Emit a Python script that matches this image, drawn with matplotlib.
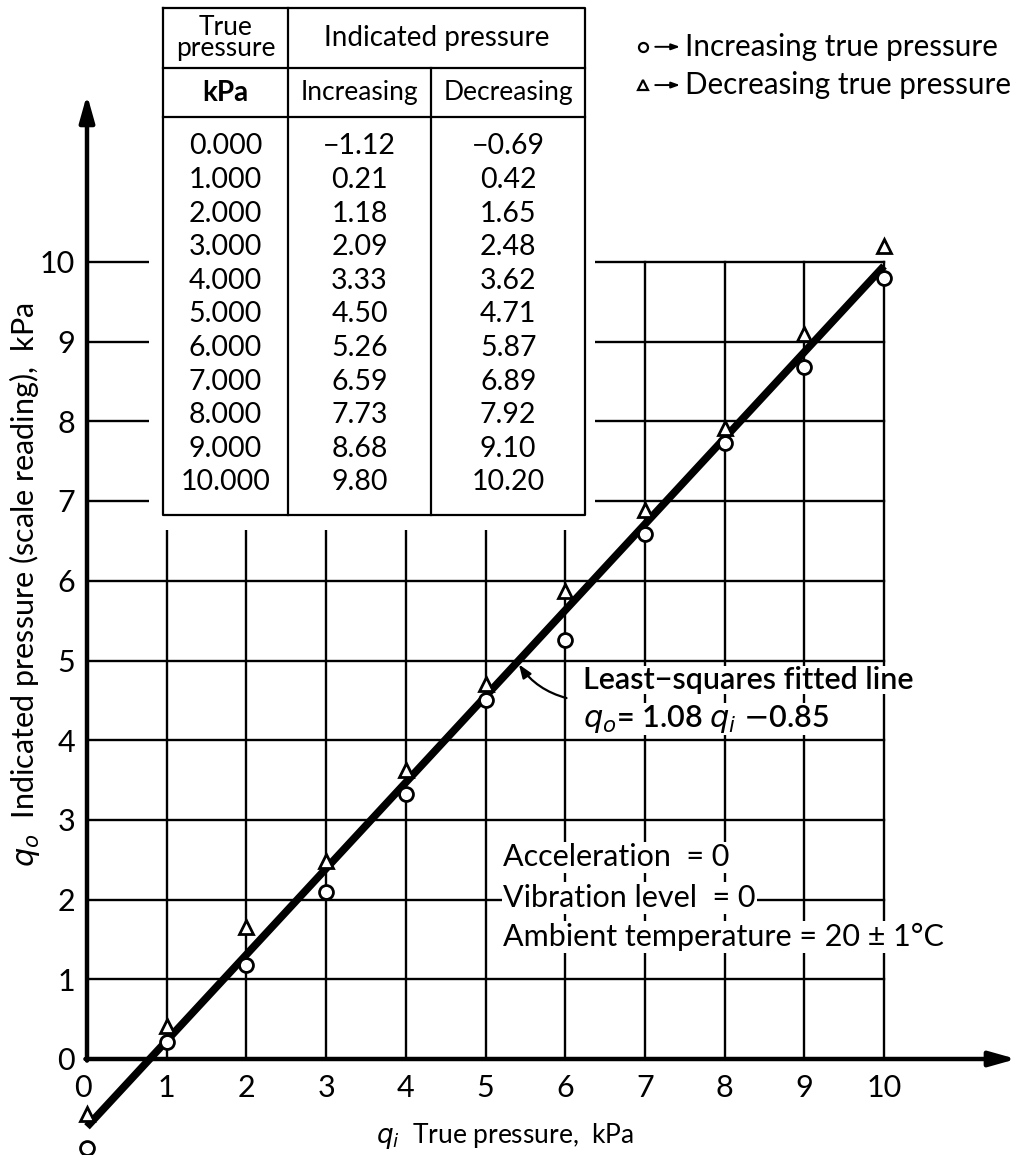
import numpy as np
import matplotlib.pyplot as plt
from matplotlib.patches import Rectangle

plt.rcParams['font.family'] = ['Lato', 'DejaVu Sans']

# Calibration data
true_p = [0, 1, 2, 3, 4, 5, 6, 7, 8, 9, 10]
inc_p = [-1.12, 0.21, 1.18, 2.09, 3.33, 4.50, 5.26, 6.59, 7.73, 8.68, 9.80]
dec_p = [-0.69, 0.42, 1.65, 2.48, 3.62, 4.71, 5.87, 6.89, 7.92, 9.10, 10.20]
true_lbl = ['0.000', '1.000', '2.000', '3.000', '4.000', '5.000',
            '6.000', '7.000', '8.000', '9.000', '10.000']
inc_lbl = ['\u22121.12', '0.21', '1.18', '2.09', '3.33', '4.50',
           '5.26', '6.59', '7.73', '8.68', '9.80']
dec_lbl = ['\u22120.69', '0.42', '1.65', '2.48', '3.62', '4.71',
           '5.87', '6.89', '7.92', '9.10', '10.20']
slope, intercept = 1.08, -0.85
ticks = list(range(11))

# Figure: one axes filling the canvas, 1 unit ~ 80 px
fig = plt.figure(figsize=(10.19, 11.55), dpi=100)
ax = fig.add_axes([0, 0, 1, 1])
u = 79.7
ax.set_xlim(-87 / u, (1019 - 87) / u)
ax.set_ylim(-(1155 - 1059) / u, 1059 / u)
ax.axis('off')

# grid
for t in ticks[1:]:
    ax.plot([0, 10], [t, t], color='k', lw=1.7, zorder=1)
    ax.plot([t, t], [0, 10], color='k', lw=1.7, zorder=1)

# axes with arrows
arr = dict(arrowstyle='-|>,head_length=1.6,head_width=0.45', color='k', lw=3.2,
           shrinkA=0, shrinkB=0)
ax.annotate('', xy=(11.66, 0), xytext=(-0.02, 0), arrowprops=arr,
            annotation_clip=False, zorder=3)
ax.annotate('', xy=(0, 12.1), xytext=(0, -0.02), arrowprops=arr,
            annotation_clip=False, zorder=3)

# tick labels
for t in ticks:
    ax.text(t - (0.05 if t == 0 else 0), -0.36, str(t), ha='center', va='center', fontsize=22)
    ax.text(-0.15, t - 0.03, str(t), ha='right', va='center', fontsize=22)

# axis titles
ax.text(5.25, -0.97, r'$q_i$  True pressure,  kPa', ha='center', va='center', fontsize=19)
ax.text(-0.78, 5.95, r'$q_o$  Indicated pressure (scale reading),  kPa',
        ha='center', va='center', rotation=90, fontsize=22)

# fitted line
xf = np.array([0, 10])
ax.plot(xf, slope * xf + intercept, color='k', lw=5.5, solid_capstyle='butt', zorder=4)

# data points
ax.plot(true_p, inc_p, 'o', ms=10, mfc='white', mec='k', mew=2, zorder=5, clip_on=False)
ax.plot(true_p, dec_p, '^', ms=10, mfc='white', mec='k', mew=2, zorder=5, clip_on=False)

# table
x0, x1, x2, x3 = 0.954, 2.52, 4.32, 6.25
ytop, yh1, yh2, ybot = 13.19, 12.43, 11.82, 6.83
ax.add_patch(Rectangle((0.78, 6.64), 6.37 - 0.78, 13.4 - 6.64, fc='white', ec='none', zorder=6))
tk = dict(color='k', lw=1.6, zorder=7)
ax.plot([x0, x3, x3, x0, x0], [ytop, ytop, ybot, ybot, ytop], **tk)
ax.plot([x0, x3], [yh1, yh1], **tk)
ax.plot([x0, x3], [yh2, yh2], **tk)
ax.plot([x1, x1], [ytop, ybot], **tk)
ax.plot([x2, x2], [yh1, ybot], **tk)
ax.text((x0 + x1) / 2, (ytop + yh1) / 2, 'True\npressure', ha='center', va='center',
        fontsize=19, linespacing=0.78, zorder=8)
ax.text((x1 + x3) / 2, (ytop + yh1) / 2, 'Indicated pressure', ha='center', va='center',
        fontsize=20, zorder=8)
ax.text((x0 + x1) / 2, (yh1 + yh2) / 2, 'kPa', ha='center', va='center',
        fontsize=20, fontweight='bold', zorder=8)
ax.text((x1 + x2) / 2, (yh1 + yh2) / 2, 'Increasing', ha='center', va='center',
        fontsize=19, zorder=8)
ax.text((x2 + x3) / 2, (yh1 + yh2) / 2, 'Decreasing', ha='center', va='center',
        fontsize=19, zorder=8)
row_y = 11.45 - 0.4216 * np.arange(len(true_lbl))
for ry, a, b, c in zip(row_y, true_lbl, inc_lbl, dec_lbl):
    ax.text((x0 + x1) / 2, ry, a, ha='center', va='center', fontsize=20.5, zorder=8)
    ax.text((x1 + x2) / 2, ry, b, ha='center', va='center', fontsize=20.5, zorder=8)
    ax.text((x2 + x3) / 2, ry, c, ha='center', va='center', fontsize=20.5, zorder=8)

# legend
leg_y = [12.70, 12.22]
leg_txt = ['Increasing true pressure', 'Decreasing true pressure']
leg_mk = ['o', '^']
small = dict(arrowstyle='-|>,head_length=0.5,head_width=0.18', color='k', lw=1.4,
             shrinkA=0, shrinkB=0)
for ly, lt, mk in zip(leg_y, leg_txt, leg_mk):
    ax.plot(6.97, ly, mk, ms=6.5, mfc='white', mec='k', mew=1.6)
    ax.annotate('', xy=(7.44, ly), xytext=(7.13, ly), arrowprops=small)
    ax.text(7.50, ly, lt, ha='left', va='center', fontsize=21.3)

# fitted line annotation
wb = dict(facecolor='white', edgecolor='none', pad=0)
ax.text(6.22, 4.75, 'Least\u2212squares fitted line', ha='left', va='center',
        fontsize=22, fontweight='semibold', bbox=wb, zorder=3)
ax.text(6.22, 4.27, r'$q_o$= 1.08 $q_i$ $-$0.85', ha='left', va='center',
        fontsize=22, fontweight='semibold', bbox=wb, zorder=3)
ax.annotate('', xy=(5.4, 4.98), xytext=(6.05, 4.52),
            arrowprops=dict(arrowstyle='-|>,head_length=0.8,head_width=0.3', color='k', lw=1.6,
                            connectionstyle='arc3,rad=-0.2'), zorder=3)

# test conditions
wb2 = dict(facecolor='white', edgecolor='none', pad=1)
ax.text(5.22, 2.53, 'Acceleration  = 0', ha='left', va='center', fontsize=22, bbox=wb2, zorder=3)
ax.text(5.22, 2.02, 'Vibration level  = 0', ha='left', va='center', fontsize=22, bbox=wb2, zorder=3)
ax.text(5.22, 1.53, 'Ambient temperature = 20 \u00b1 1\u00b0C', ha='left', va='center',
        fontsize=22, bbox=wb2, zorder=3)

fig.savefig('out.png', dpi=100)
